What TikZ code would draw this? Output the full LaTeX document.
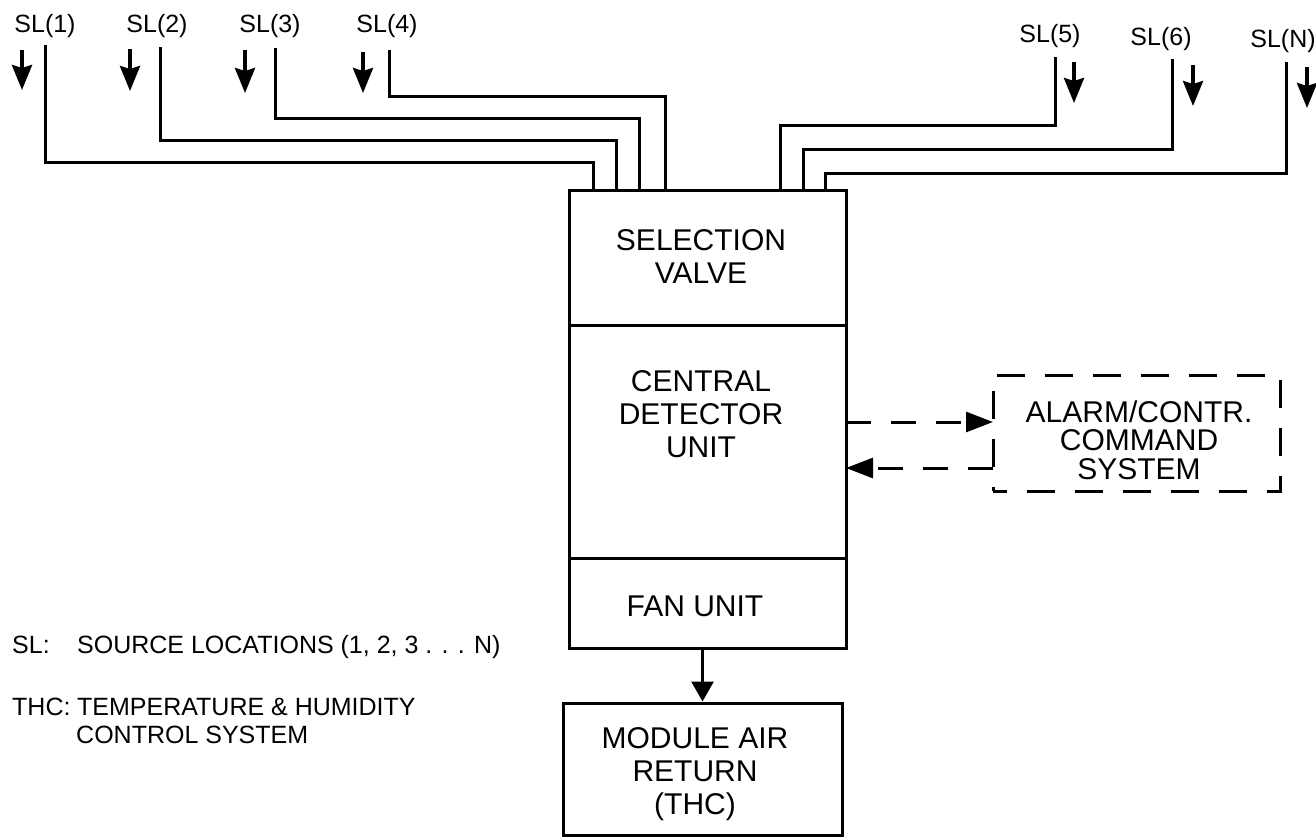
\documentclass[tikz,border=0pt]{standalone}
\usepackage{fontspec}
\setmainfont{Liberation Sans}
\usetikzlibrary{arrows.meta}
\tikzset{
  box/.style={draw, line width=3pt, inner sep=0pt, anchor=center},
  dbox/.style={draw, line width=3pt, inner sep=0pt, anchor=center, dash pattern=on 28pt off 20pt, dash phase=14pt},
  btxt/.style={font=\fontsize{30}{33}\selectfont, align=center, inner sep=0pt},
  atxt/.style={font=\fontsize{30}{28.5}\selectfont, align=center, inner sep=0pt},
  lbl/.style={font=\fontsize{25}{29}\selectfont, inner sep=0pt},
  pipe/.style={line width=3pt},
  flow/.style={line width=3.6pt, -{Stealth[length=25pt,width=20pt,inset=3pt]}},
  outflow/.style={line width=3pt, -{Triangle[length=20pt,width=22pt]}},
  dflow/.style={line width=3pt, dash pattern=on 25pt off 20pt, -{Triangle[length=27pt,width=20pt]}}
}
\begin{document}
\begin{tikzpicture}[x=1pt,y=-1pt]
\useasboundingbox (0,0) rectangle (1316,837);

% main column
\node[box, minimum width=277pt, minimum height=134pt] (sv) at (707.5,258) {};
\node[box, minimum width=277pt, minimum height=233pt] (cdu) at (707.5,441.5) {};
\node[box, minimum width=277pt, minimum height=90pt] (fan) at (707.5,603) {};
\node[box, minimum width=279pt, minimum height=132pt] (mar) at (702.5,769) {};
\node[dbox, minimum width=287pt, minimum height=116pt] (al) at (1136.5,433) {};

\node[btxt] (svt) at (701,257) {SELECTION\\VALVE};
\node[btxt] (cdut) at (701,414) {CENTRAL\\DETECTOR\\UNIT};
\node[btxt] (fant) at (695,606) {FAN UNIT};
\node[btxt] (mart) at (695,774) {MODULE AIR\\RETURN\\(THC)};
\node[atxt] (alt) at (1139,440) {ALARM/CONTR.\\COMMAND\\SYSTEM};

% labels
\node[lbl, anchor=base] (l1) at (45,33) {SL(1)};
\node[lbl, anchor=base] (l2) at (157,33) {SL(2)};
\node[lbl, anchor=base] (l3) at (270,33) {SL(3)};
\node[lbl, anchor=base] (l4) at (387,33) {SL(4)};
\node[lbl, anchor=base] (l5) at (1050,43) {SL(5)};
\node[lbl, anchor=base] (l6) at (1161,46) {SL(6)};
\node[lbl, anchor=base] (ln) at (1283,48) {SL(N)};

% pipes
\coordinate (t1) at (45,45);   \coordinate (h1) at (593,163); \coordinate (b1) at (593,191);
\coordinate (t2) at (160,47);  \coordinate (h2) at (616,141); \coordinate (b2) at (616,191);
\coordinate (t3) at (275,48);  \coordinate (h3) at (639,119); \coordinate (b3) at (639,191);
\coordinate (t4) at (389,50);  \coordinate (h4) at (665,97);  \coordinate (b4) at (665,191);
\coordinate (t5) at (1055,57); \coordinate (h5) at (780,126); \coordinate (b5) at (780,191);
\coordinate (t6) at (1172,59); \coordinate (h6) at (803,150); \coordinate (b6) at (803,191);
\coordinate (t7) at (1286,62); \coordinate (h7) at (825,174); \coordinate (b7) at (825,191);
\foreach \i in {1,...,7} { \draw[pipe] (t\i) |- (h\i) -- (b\i); }

% source arrows
\coordinate (s1) at (22,50);   \coordinate (e1) at (22,90);
\coordinate (s2) at (130,49);  \coordinate (e2) at (130,91);
\coordinate (s3) at (245,50);  \coordinate (e3) at (245,93);
\coordinate (s4) at (363,52);  \coordinate (e4) at (363,93);
\coordinate (s5) at (1074,62); \coordinate (e5) at (1074,103);
\coordinate (s6) at (1193,65); \coordinate (e6) at (1193,106);
\coordinate (s7) at (1307,67); \coordinate (e7) at (1307,108);
\foreach \i in {1,...,7} { \draw[flow] (s\i) -- (e\i); }

% fan to module air return
\draw[outflow] (fan.south -| mar.north) -- (mar.north);

% dashed signal arrows
\coordinate (u1) at (846,422); \coordinate (u2) at (993,422);
\coordinate (v1) at (993,468); \coordinate (v2) at (846,468);
\draw[dflow] (u1) -- (u2);
\draw[dflow] (v1) -- (v2);

% legend
\node[lbl, anchor=base west] (lg1) at (12,653) {SL:};
\node[lbl, anchor=base west] (lg2) at (77,653) {SOURCE LOCATIONS (1, 2, 3 . . . N)};
\node[lbl, anchor=base west] (lg3) at (12,715) {THC:};
\node[lbl, anchor=base west] (lg4) at (77,715) {TEMPERATURE \& HUMIDITY};
\node[lbl, anchor=base west] (lg5) at (76,743) {CONTROL SYSTEM};
\end{tikzpicture}
\end{document}
